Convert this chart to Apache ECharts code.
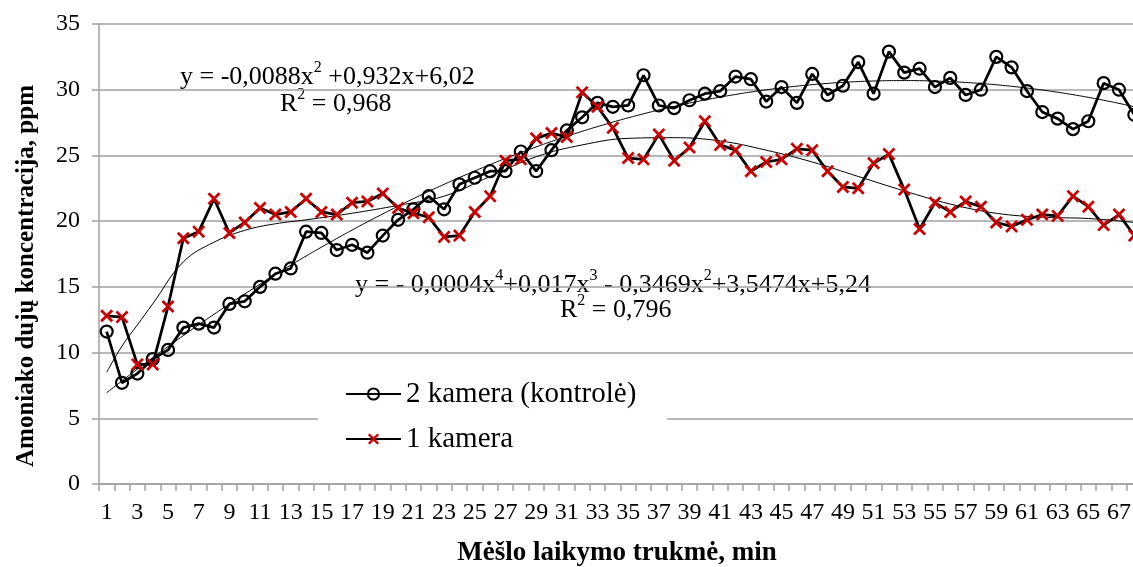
<!DOCTYPE html>
<html>
<head>
<meta charset="utf-8">
<script src="https://cdn.jsdelivr.net/npm/echarts@6/dist/echarts.min.js"></script>
<style>
  html, body { margin: 0; padding: 0; background: #fff; }
  #chart { width: 1133px; height: 567px; }
</style>
</head>
<body>
<div id="chart"></div>
<script>
// Storage time, minutes (category axis 1..68)
const minutes = Array.from({ length: 68 }, (_, i) => String(i + 1));

// Ammonia concentration, ppm – chamber 2 (control)
const kamera2 = [
  11.6, 7.7, 8.4, 9.5, 10.2, 11.9, 12.2, 11.9, 13.7, 13.9,
  15.0, 16.0, 16.4, 19.2, 19.1, 17.8, 18.2, 17.6, 18.9, 20.1,
  20.9, 21.9, 20.9, 22.8, 23.3, 23.8, 23.8, 25.3, 23.8, 25.4,
  26.9, 27.9, 29.0, 28.7, 28.8, 31.1, 28.8, 28.6, 29.2, 29.7,
  29.9, 31.0, 30.8, 29.1, 30.2, 29.0, 31.2, 29.6, 30.3, 32.1,
  29.7, 32.9, 31.3, 31.6, 30.2, 30.9, 29.6, 30.0, 32.5, 31.7,
  29.9, 28.3, 27.8, 27.0, 27.6, 30.5, 30.0, 28.1
];

// Ammonia concentration, ppm – chamber 1
const kamera1 = [
  12.8, 12.7, 9.1, 9.1, 13.5, 18.7, 19.2, 21.7, 19.1, 19.9,
  21.0, 20.5, 20.7, 21.7, 20.7, 20.5, 21.4, 21.5, 22.1, 21.0,
  20.6, 20.3, 18.8, 18.9, 20.7, 21.9, 24.6, 24.7, 26.3, 26.7,
  26.4, 29.8, 28.7, 27.1, 24.8, 24.7, 26.6, 24.6, 25.6, 27.6,
  25.8, 25.4, 23.8, 24.5, 24.7, 25.5, 25.4, 23.8, 22.6, 22.5,
  24.4, 25.1, 22.4, 19.4, 21.4, 20.7, 21.5, 21.1, 19.9, 19.6,
  20.1, 20.5, 20.4, 21.9, 21.1, 19.7, 20.5, 18.9
];

// Quadratic trend of chamber 2: y = -0,0088x² + 0,932x + 6,02 (constant, x, x²)
const trend2Coef = [6.02, 0.932, -0.0088];

// 4th-order trend of chamber 1, sampled along the curve (minute, ppm)
const trend1X = [1, 2, 3, 4, 6, 8, 10, 12, 14, 17, 20, 23, 26, 29, 32, 35, 38, 41, 44, 47, 50, 53, 56, 59, 62, 65, 68];
const trend1Y = [8.5, 10.5, 12.1, 13.7, 16.9, 18.4, 19.3, 19.8, 20.1, 20.6, 21.2, 21.9, 23.4, 24.9, 25.8, 26.3, 26.35, 26.1, 25.4, 24.5, 23.4, 22.3, 21.3, 20.6, 20.3, 20.2, 19.9];

const yTicks = { min: 0, max: 35, interval: 5 };

const trend2 = minutes.map((_, i) => {
  const x = i + 1;
  return trend2Coef[0] + trend2Coef[1] * x + trend2Coef[2] * x * x;
});
const trend1 = trend1X.map((x, i) => [x, trend1Y[i]]);

const serif = '"Liberation Serif", "Times New Roman", serif';
const crossPath = 'path://M0,1.5L1.5,0L5,3.5L8.5,0L10,1.5L6.5,5L10,8.5L8.5,10L5,6.5L1.5,10L0,8.5L3.5,5Z';

const eqRich = {
  n: { fontFamily: serif, fontSize: 26, color: '#000', lineHeight: 30, verticalAlign: 'bottom' },
  s: { fontFamily: serif, fontSize: 16, color: '#000', lineHeight: 30, verticalAlign: 'top' }
};

const chart = echarts.init(document.getElementById('chart'), null, { renderer: 'canvas' });
chart.setOption({
  backgroundColor: '#fff',
  animation: false,
  grid: { left: 99, top: 24, width: 1043, height: 460, containLabel: false, outerBoundsMode: 'none' },
  xAxis: [
    {
      type: 'category',
      data: minutes,
      boundaryGap: true,
      axisLine: { lineStyle: { color: '#a0a0a0', width: 1.5 } },
      axisTick: { show: true, interval: 0, length: 7, lineStyle: { color: '#a0a0a0', width: 1.5 } },
      axisLabel: { interval: 1, margin: 17, fontFamily: serif, fontSize: 24, color: '#000' },
      splitLine: { show: false }
    },
    { type: 'value', min: 0.5, max: 68.5, show: false }
  ],
  yAxis: {
    type: 'value',
    min: yTicks.min, max: yTicks.max, interval: yTicks.interval,
    axisLine: { show: true, lineStyle: { color: '#a0a0a0', width: 1.5 } },
    axisTick: { show: true, length: 7, lineStyle: { color: '#a0a0a0', width: 1.5 } },
    axisLabel: { margin: 19, fontFamily: serif, fontSize: 24, color: '#000' },
    splitLine: { lineStyle: { color: '#a0a0a0', width: 1.5 } }
  },
  legend: {
    orient: 'vertical',
    left: 318, top: 363,
    backgroundColor: '#fff',
    padding: [16, 31, 16, 27],
    itemGap: 15,
    itemWidth: 55, itemHeight: 14,
    data: ['2 kamera (kontrolė)', '1 kamera'],
    textStyle: { fontFamily: serif, fontSize: 29, lineHeight: 30, color: '#000' }
  },
  graphic: [
    { type: 'text', left: 180, top: 60, style: { rich: eqRich,
      text: '{n|y = -0,0088x}{s|2}{n| +0,932x+6,02}' } },
    { type: 'text', left: 280, top: 87, style: { rich: eqRich,
      text: '{n|R}{s|2}{n| = 0,968}' } },
    { type: 'text', left: 355, top: 268, style: { rich: eqRich,
      text: '{n|y = - 0,0004x}{s|4}{n|+0,017x}{s|3}{n| - 0,3469x}{s|2}{n|+3,5474x+5,24}' } },
    { type: 'text', left: 560, top: 293, style: { rich: eqRich,
      text: '{n|R}{s|2}{n| = 0,796}' } },
    { type: 'text', x: 617, y: 553, style: {
      text: 'Mėšlo laikymo trukmė, min', fontFamily: serif, fontSize: 27, fontWeight: 'bold',
      fill: '#000', align: 'center', verticalAlign: 'middle' } },
    { type: 'text', x: 27, y: 276, rotation: Math.PI / 2, style: {
      text: 'Amoniako dujų koncentracija, ppm', fontFamily: serif, fontSize: 25, fontWeight: 'bold',
      fill: '#000', align: 'center', verticalAlign: 'middle' } }
  ],
  series: [
    {
      name: 'poly2 trend',
      type: 'line', data: trend2, smooth: true, symbol: 'none', silent: true, z: 1,
      lineStyle: { color: '#000', width: 1 }
    },
    {
      name: 'poly4 trend',
      type: 'line', xAxisIndex: 1, data: trend1, smooth: 0.4, symbol: 'none', silent: true, z: 1,
      lineStyle: { color: '#000', width: 1 }
    },
    {
      name: '2 kamera (kontrolė)',
      type: 'line', data: kamera2, symbol: 'circle', symbolSize: 12, showAllSymbol: true, z: 3,
      lineStyle: { color: '#000', width: 2.75 },
      itemStyle: { color: 'rgba(255,255,255,0)', borderColor: '#000', borderWidth: 2.2 }
    },
    {
      name: '1 kamera',
      type: 'line', data: kamera1, symbol: crossPath, symbolSize: 13, showAllSymbol: true, z: 3,
      lineStyle: { color: '#000', width: 2.75 },
      itemStyle: { color: '#cc0000', borderWidth: 0 }
    }
  ]
});
</script>
</body>
</html>
